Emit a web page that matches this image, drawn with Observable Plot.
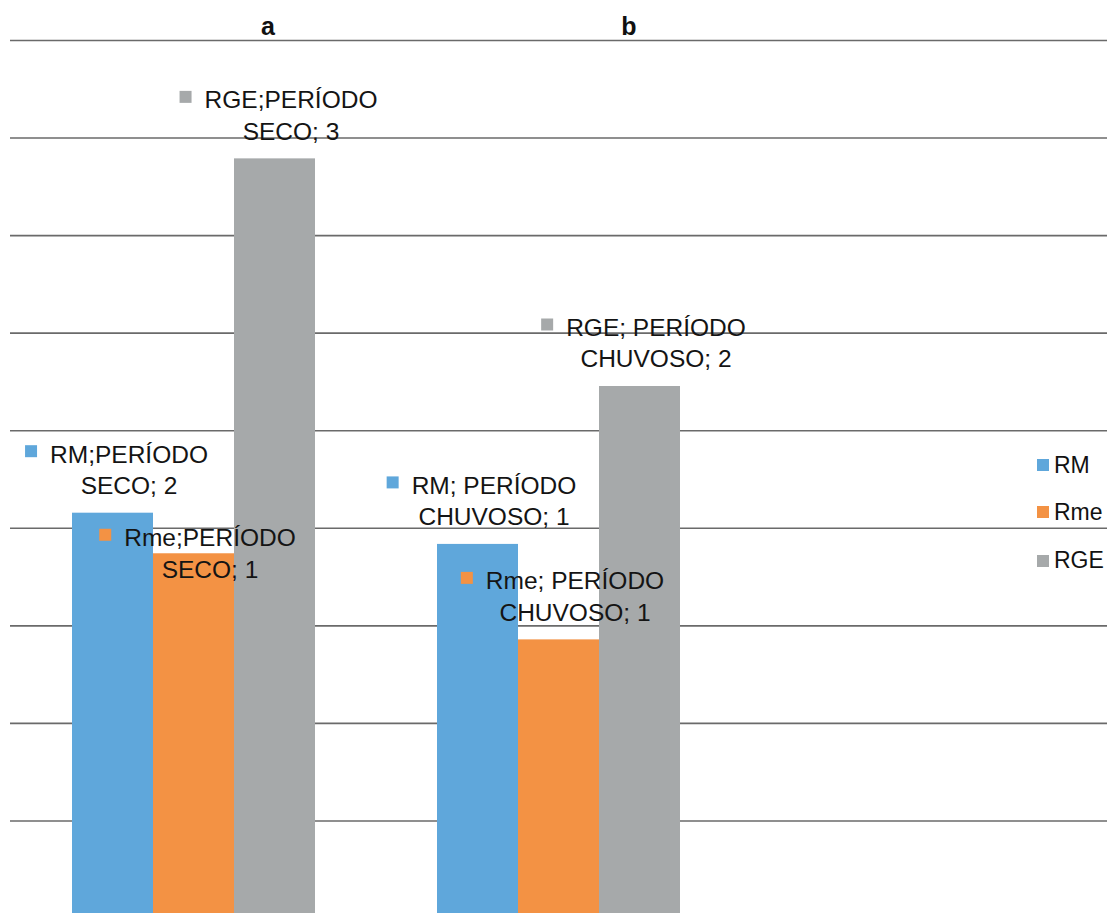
<!DOCTYPE html>
<html><head><meta charset="utf-8">
<script src="https://cdn.jsdelivr.net/npm/d3@7"></script>
<script src="https://cdn.jsdelivr.net/npm/@observablehq/plot@0.6"></script>
<style>
html,body{margin:0;padding:0;background:#fff;}
#chart{position:relative;width:1118px;height:913px;overflow:hidden;font-family:"Liberation Sans",Arial,sans-serif;}
#chart svg{position:absolute;left:0;top:0;background:transparent;}
.leg{position:absolute;left:1037px;height:48px;display:flex;align-items:center;font-size:23px;color:#111;}
.leg span.sw{display:inline-block;width:12px;height:12px;margin-right:5px;}
</style></head><body><div id="chart"></div>
<script>
// ---- data ----
const periods = ["a", "b"];
const series = ["RM", "Rme", "RGE"];
const valuesA = [1.558, 1.402, 2.920];   // PERÍODO SECO
const valuesB = [1.438, 1.071, 2.045];   // PERÍODO CHUVOSO
const labelsA = ["RM;PERÍODO\nSECO; 2", "Rme;PERÍODO\nSECO; 1", "RGE;PERÍODO\nSECO; 3"];
const labelsB = ["RM; PERÍODO\nCHUVOSO; 1", "Rme; PERÍODO\nCHUVOSO; 1", "RGE; PERÍODO\nCHUVOSO; 2"];
const gridValues = [0.375, 0.75, 1.125, 1.5, 1.875, 2.25, 2.625, 3.0, 3.375];
const colors = ["#5fa7db", "#f39244", "#a6a9aa"];

// ---- layout ----
const FONT = '"Liberation Sans", Arial, sans-serif';
const W = 1118, H = 913;
const yScale = {domain: [0, 3.375], range: [918, 40], axis: null};
const labelFont = 24.5, lineGap = 31.5;
const belowLabels = ["a|Rme"];
const titleDx = {a: 74, b: 70};

const values = [valuesA, valuesB];
const labels = [labelsA, labelsB];
const rows = [];
periods.forEach((p, i) => series.forEach((s, j) =>
  rows.push({period: p, series: s, value: values[i][j], label: labels[i][j]})));

const ctx = document.createElement("canvas").getContext("2d");
ctx.font = `${labelFont}px ${FONT}`;
const firstLineWidth = (r) => ctx.measureText(r.label.split("\n")[0]).width;
const isBelow = (r) => belowLabels.includes(r.period + "|" + r.series);
const labelDy = (r) => isBelow(r) ? 24 : -19;

const chart = document.getElementById("chart");

// base layer: gridlines
const base = Plot.plot({
  width: W, height: H,
  marginTop: 40, marginBottom: 0, marginLeft: 10, marginRight: 11,
  x: {domain: [0, 1], axis: null},
  y: yScale,
  style: {background: "transparent"},
  marks: [
    Plot.ruleY(gridValues, {stroke: "#6a6a6a", strokeWidth: 1.6})
  ]
});
chart.appendChild(base);

const textStyle = {
  fx: "period", x: "series", y: "value", text: "label",
  fontSize: labelFont, fontFamily: FONT, fill: "#141414",
  textAnchor: "middle", lineAnchor: "bottom", lineHeight: lineGap / labelFont, dx: 16
};

const bars = Plot.plot({
  width: W, height: H,
  marginTop: 40, marginBottom: 0, marginLeft: 10, marginRight: 376.5,
  fx: {domain: periods, padding: 0, axis: null},
  x: {domain: series, paddingInner: 0, paddingOuter: 0.748, axis: null},
  y: yScale,
  color: {domain: series, range: colors},
  style: {background: "transparent", fontFamily: FONT, overflow: "visible"},
  marks: [
    Plot.barY(rows, {fx: "period", x: "series", y: "value", fill: "series"}),
    ...periods.map(p => Plot.text([p], {fx: d => d, text: d => d, frameAnchor: "top", lineAnchor: "bottom",
      dx: titleDx[p], dy: -6, fontSize: 25, fontWeight: "bold", fontFamily: FONT, fill: "#111"})),
    Plot.text(rows.filter(r => !isBelow(r)), {...textStyle, dy: -19}),
    Plot.text(rows.filter(isBelow), {...textStyle, dy: 24}),
    ...rows.map(r => Plot.dot([r], {
      fx: "period", x: "series", y: "value", fill: "series", stroke: null,
      symbol: "square", r: 6.77,
      dx: 16 - firstLineWidth(r) / 2 - 19,
      dy: labelDy(r) - lineGap - 11.5
    }))
  ]
});
chart.appendChild(bars);

// legend
const legendCenters = [465, 512, 560.5];
series.forEach((s, i) => {
  const d = document.createElement("div");
  d.className = "leg";
  d.style.top = (legendCenters[i] - 24) + "px";
  d.innerHTML = `<span class="sw" style="background:${colors[i]}"></span>${s}`;
  chart.appendChild(d);
});
</script>
</body></html>
